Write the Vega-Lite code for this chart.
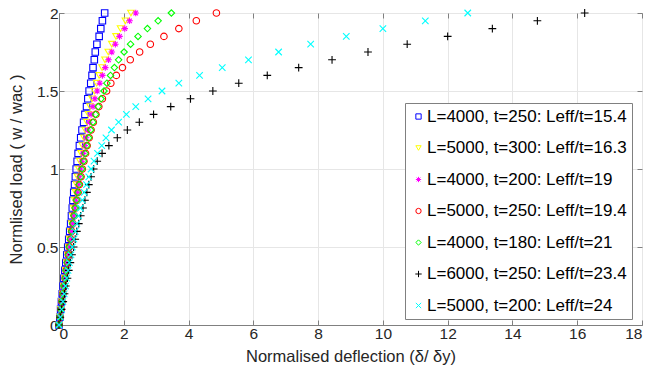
{
  "$schema": "https://vega.github.io/schema/vega-lite/v6.json",
  "width": 583,
  "height": 312,
  "autosize": {"type": "none"},
  "padding": {"left": 59, "top": 13, "right": 8, "bottom": 55},
  "background": "white",
  "config": {
    "font": "Liberation Sans",
    "view": {"stroke": "#808080", "strokeWidth": 1},
    "axis": {
      "domainColor": "#808080",
      "tickColor": "#808080",
      "gridColor": "#e6e6e6",
      "labelColor": "#262626",
      "titleColor": "#262626",
      "labelFont": "Liberation Sans",
      "titleFont": "Liberation Sans",
      "labelFontSize": 15.5,
      "titleFontSize": 16.5,
      "titleFontWeight": "normal",
      "tickSize": -5,
      "labelPadding": 6
    },
    "legend": {
      "orient": "none",
      "legendX": 346,
      "legendY": 90,
      "fillColor": "white",
      "strokeColor": "#808080",
      "padding": 5,
      "labelFont": "Liberation Sans",
      "labelFontSize": 17,
      "labelColor": "#000000",
      "rowPadding": 13.5,
      "symbolSize": 28,
      "symbolStrokeWidth": 1,
      "labelOffset": 0,
      "labelLimit": 400
    }
  },
  "data": {
    "values": [
      {"series": "L=4000, t=250: Leff/t=15.4", "deflection": 0, "load": 0},
      {"series": "L=4000, t=250: Leff/t=15.4", "deflection": 0.025, "load": 0.05},
      {"series": "L=4000, t=250: Leff/t=15.4", "deflection": 0.05, "load": 0.1},
      {"series": "L=4000, t=250: Leff/t=15.4", "deflection": 0.075, "load": 0.15},
      {"series": "L=4000, t=250: Leff/t=15.4", "deflection": 0.1, "load": 0.2},
      {"series": "L=4000, t=250: Leff/t=15.4", "deflection": 0.125, "load": 0.25},
      {"series": "L=4000, t=250: Leff/t=15.4", "deflection": 0.15, "load": 0.3},
      {"series": "L=4000, t=250: Leff/t=15.4", "deflection": 0.18, "load": 0.35},
      {"series": "L=4000, t=250: Leff/t=15.4", "deflection": 0.21, "load": 0.4},
      {"series": "L=4000, t=250: Leff/t=15.4", "deflection": 0.24, "load": 0.45},
      {"series": "L=4000, t=250: Leff/t=15.4", "deflection": 0.27, "load": 0.5},
      {"series": "L=4000, t=250: Leff/t=15.4", "deflection": 0.3, "load": 0.55},
      {"series": "L=4000, t=250: Leff/t=15.4", "deflection": 0.33, "load": 0.6},
      {"series": "L=4000, t=250: Leff/t=15.4", "deflection": 0.36, "load": 0.65},
      {"series": "L=4000, t=250: Leff/t=15.4", "deflection": 0.385, "load": 0.7},
      {"series": "L=4000, t=250: Leff/t=15.4", "deflection": 0.41, "load": 0.75},
      {"series": "L=4000, t=250: Leff/t=15.4", "deflection": 0.43, "load": 0.8},
      {"series": "L=4000, t=250: Leff/t=15.4", "deflection": 0.455, "load": 0.85},
      {"series": "L=4000, t=250: Leff/t=15.4", "deflection": 0.48, "load": 0.9},
      {"series": "L=4000, t=250: Leff/t=15.4", "deflection": 0.505, "load": 0.95},
      {"series": "L=4000, t=250: Leff/t=15.4", "deflection": 0.53, "load": 1},
      {"series": "L=4000, t=250: Leff/t=15.4", "deflection": 0.56, "load": 1.05},
      {"series": "L=4000, t=250: Leff/t=15.4", "deflection": 0.59, "load": 1.1},
      {"series": "L=4000, t=250: Leff/t=15.4", "deflection": 0.63, "load": 1.15},
      {"series": "L=4000, t=250: Leff/t=15.4", "deflection": 0.67, "load": 1.2},
      {"series": "L=4000, t=250: Leff/t=15.4", "deflection": 0.71, "load": 1.25},
      {"series": "L=4000, t=250: Leff/t=15.4", "deflection": 0.76, "load": 1.3},
      {"series": "L=4000, t=250: Leff/t=15.4", "deflection": 0.8, "load": 1.35},
      {"series": "L=4000, t=250: Leff/t=15.4", "deflection": 0.85, "load": 1.4},
      {"series": "L=4000, t=250: Leff/t=15.4", "deflection": 0.89, "load": 1.45},
      {"series": "L=4000, t=250: Leff/t=15.4", "deflection": 0.93, "load": 1.5},
      {"series": "L=4000, t=250: Leff/t=15.4", "deflection": 0.98, "load": 1.55},
      {"series": "L=4000, t=250: Leff/t=15.4", "deflection": 1.02, "load": 1.6},
      {"series": "L=4000, t=250: Leff/t=15.4", "deflection": 1.05, "load": 1.65},
      {"series": "L=4000, t=250: Leff/t=15.4", "deflection": 1.09, "load": 1.7},
      {"series": "L=4000, t=250: Leff/t=15.4", "deflection": 1.12, "load": 1.75},
      {"series": "L=4000, t=250: Leff/t=15.4", "deflection": 1.17, "load": 1.8},
      {"series": "L=4000, t=250: Leff/t=15.4", "deflection": 1.24, "load": 1.85},
      {"series": "L=4000, t=250: Leff/t=15.4", "deflection": 1.29, "load": 1.9},
      {"series": "L=4000, t=250: Leff/t=15.4", "deflection": 1.34, "load": 1.95},
      {"series": "L=4000, t=250: Leff/t=15.4", "deflection": 1.41, "load": 2},
      {"series": "L=5000, t=300: Leff/t=16.3", "deflection": 0, "load": 0},
      {"series": "L=5000, t=300: Leff/t=16.3", "deflection": 0.03, "load": 0.05},
      {"series": "L=5000, t=300: Leff/t=16.3", "deflection": 0.06, "load": 0.1},
      {"series": "L=5000, t=300: Leff/t=16.3", "deflection": 0.09, "load": 0.15},
      {"series": "L=5000, t=300: Leff/t=16.3", "deflection": 0.12, "load": 0.2},
      {"series": "L=5000, t=300: Leff/t=16.3", "deflection": 0.15, "load": 0.25},
      {"series": "L=5000, t=300: Leff/t=16.3", "deflection": 0.18, "load": 0.3},
      {"series": "L=5000, t=300: Leff/t=16.3", "deflection": 0.21, "load": 0.35},
      {"series": "L=5000, t=300: Leff/t=16.3", "deflection": 0.24, "load": 0.4},
      {"series": "L=5000, t=300: Leff/t=16.3", "deflection": 0.27, "load": 0.45},
      {"series": "L=5000, t=300: Leff/t=16.3", "deflection": 0.3, "load": 0.5},
      {"series": "L=5000, t=300: Leff/t=16.3", "deflection": 0.33, "load": 0.55},
      {"series": "L=5000, t=300: Leff/t=16.3", "deflection": 0.36, "load": 0.6},
      {"series": "L=5000, t=300: Leff/t=16.3", "deflection": 0.39, "load": 0.65},
      {"series": "L=5000, t=300: Leff/t=16.3", "deflection": 0.42, "load": 0.7},
      {"series": "L=5000, t=300: Leff/t=16.3", "deflection": 0.45, "load": 0.75},
      {"series": "L=5000, t=300: Leff/t=16.3", "deflection": 0.48, "load": 0.8},
      {"series": "L=5000, t=300: Leff/t=16.3", "deflection": 0.51, "load": 0.85},
      {"series": "L=5000, t=300: Leff/t=16.3", "deflection": 0.54, "load": 0.9},
      {"series": "L=5000, t=300: Leff/t=16.3", "deflection": 0.57, "load": 0.95},
      {"series": "L=5000, t=300: Leff/t=16.3", "deflection": 0.61, "load": 1},
      {"series": "L=5000, t=300: Leff/t=16.3", "deflection": 0.64, "load": 1.05},
      {"series": "L=5000, t=300: Leff/t=16.3", "deflection": 0.68, "load": 1.1},
      {"series": "L=5000, t=300: Leff/t=16.3", "deflection": 0.72, "load": 1.15},
      {"series": "L=5000, t=300: Leff/t=16.3", "deflection": 0.77, "load": 1.2},
      {"series": "L=5000, t=300: Leff/t=16.3", "deflection": 0.81, "load": 1.25},
      {"series": "L=5000, t=300: Leff/t=16.3", "deflection": 0.86, "load": 1.3},
      {"series": "L=5000, t=300: Leff/t=16.3", "deflection": 0.91, "load": 1.35},
      {"series": "L=5000, t=300: Leff/t=16.3", "deflection": 0.96, "load": 1.4},
      {"series": "L=5000, t=300: Leff/t=16.3", "deflection": 1.02, "load": 1.45},
      {"series": "L=5000, t=300: Leff/t=16.3", "deflection": 1.09, "load": 1.5},
      {"series": "L=5000, t=300: Leff/t=16.3", "deflection": 1.16, "load": 1.55},
      {"series": "L=5000, t=300: Leff/t=16.3", "deflection": 1.24, "load": 1.6},
      {"series": "L=5000, t=300: Leff/t=16.3", "deflection": 1.33, "load": 1.65},
      {"series": "L=5000, t=300: Leff/t=16.3", "deflection": 1.42, "load": 1.7},
      {"series": "L=5000, t=300: Leff/t=16.3", "deflection": 1.52, "load": 1.75},
      {"series": "L=5000, t=300: Leff/t=16.3", "deflection": 1.63, "load": 1.8},
      {"series": "L=5000, t=300: Leff/t=16.3", "deflection": 1.76, "load": 1.85},
      {"series": "L=5000, t=300: Leff/t=16.3", "deflection": 1.9, "load": 1.9},
      {"series": "L=5000, t=300: Leff/t=16.3", "deflection": 2.05, "load": 1.95},
      {"series": "L=5000, t=300: Leff/t=16.3", "deflection": 2.22, "load": 2},
      {"series": "L=4000, t=200: Leff/t=19", "deflection": 0, "load": 0},
      {"series": "L=4000, t=200: Leff/t=19", "deflection": 0.03, "load": 0.05},
      {"series": "L=4000, t=200: Leff/t=19", "deflection": 0.06, "load": 0.1},
      {"series": "L=4000, t=200: Leff/t=19", "deflection": 0.09, "load": 0.15},
      {"series": "L=4000, t=200: Leff/t=19", "deflection": 0.12, "load": 0.2},
      {"series": "L=4000, t=200: Leff/t=19", "deflection": 0.15, "load": 0.25},
      {"series": "L=4000, t=200: Leff/t=19", "deflection": 0.19, "load": 0.3},
      {"series": "L=4000, t=200: Leff/t=19", "deflection": 0.22, "load": 0.35},
      {"series": "L=4000, t=200: Leff/t=19", "deflection": 0.25, "load": 0.4},
      {"series": "L=4000, t=200: Leff/t=19", "deflection": 0.28, "load": 0.45},
      {"series": "L=4000, t=200: Leff/t=19", "deflection": 0.32, "load": 0.5},
      {"series": "L=4000, t=200: Leff/t=19", "deflection": 0.35, "load": 0.55},
      {"series": "L=4000, t=200: Leff/t=19", "deflection": 0.38, "load": 0.6},
      {"series": "L=4000, t=200: Leff/t=19", "deflection": 0.42, "load": 0.65},
      {"series": "L=4000, t=200: Leff/t=19", "deflection": 0.45, "load": 0.7},
      {"series": "L=4000, t=200: Leff/t=19", "deflection": 0.49, "load": 0.75},
      {"series": "L=4000, t=200: Leff/t=19", "deflection": 0.52, "load": 0.8},
      {"series": "L=4000, t=200: Leff/t=19", "deflection": 0.56, "load": 0.85},
      {"series": "L=4000, t=200: Leff/t=19", "deflection": 0.59, "load": 0.9},
      {"series": "L=4000, t=200: Leff/t=19", "deflection": 0.63, "load": 0.95},
      {"series": "L=4000, t=200: Leff/t=19", "deflection": 0.67, "load": 1},
      {"series": "L=4000, t=200: Leff/t=19", "deflection": 0.71, "load": 1.05},
      {"series": "L=4000, t=200: Leff/t=19", "deflection": 0.75, "load": 1.1},
      {"series": "L=4000, t=200: Leff/t=19", "deflection": 0.8, "load": 1.15},
      {"series": "L=4000, t=200: Leff/t=19", "deflection": 0.84, "load": 1.2},
      {"series": "L=4000, t=200: Leff/t=19", "deflection": 0.89, "load": 1.25},
      {"series": "L=4000, t=200: Leff/t=19", "deflection": 0.94, "load": 1.3},
      {"series": "L=4000, t=200: Leff/t=19", "deflection": 0.99, "load": 1.35},
      {"series": "L=4000, t=200: Leff/t=19", "deflection": 1.05, "load": 1.4},
      {"series": "L=4000, t=200: Leff/t=19", "deflection": 1.11, "load": 1.45},
      {"series": "L=4000, t=200: Leff/t=19", "deflection": 1.18, "load": 1.5},
      {"series": "L=4000, t=200: Leff/t=19", "deflection": 1.26, "load": 1.55},
      {"series": "L=4000, t=200: Leff/t=19", "deflection": 1.34, "load": 1.6},
      {"series": "L=4000, t=200: Leff/t=19", "deflection": 1.43, "load": 1.65},
      {"series": "L=4000, t=200: Leff/t=19", "deflection": 1.53, "load": 1.7},
      {"series": "L=4000, t=200: Leff/t=19", "deflection": 1.63, "load": 1.75},
      {"series": "L=4000, t=200: Leff/t=19", "deflection": 1.74, "load": 1.8},
      {"series": "L=4000, t=200: Leff/t=19", "deflection": 1.87, "load": 1.85},
      {"series": "L=4000, t=200: Leff/t=19", "deflection": 2.03, "load": 1.9},
      {"series": "L=4000, t=200: Leff/t=19", "deflection": 2.18, "load": 1.95},
      {"series": "L=4000, t=200: Leff/t=19", "deflection": 2.37, "load": 2},
      {"series": "L=5000, t=250: Leff/t=19.4", "deflection": 0, "load": 0},
      {"series": "L=5000, t=250: Leff/t=19.4", "deflection": 0.03, "load": 0.05},
      {"series": "L=5000, t=250: Leff/t=19.4", "deflection": 0.06, "load": 0.1},
      {"series": "L=5000, t=250: Leff/t=19.4", "deflection": 0.09, "load": 0.15},
      {"series": "L=5000, t=250: Leff/t=19.4", "deflection": 0.12, "load": 0.2},
      {"series": "L=5000, t=250: Leff/t=19.4", "deflection": 0.16, "load": 0.25},
      {"series": "L=5000, t=250: Leff/t=19.4", "deflection": 0.19, "load": 0.3},
      {"series": "L=5000, t=250: Leff/t=19.4", "deflection": 0.22, "load": 0.35},
      {"series": "L=5000, t=250: Leff/t=19.4", "deflection": 0.26, "load": 0.4},
      {"series": "L=5000, t=250: Leff/t=19.4", "deflection": 0.29, "load": 0.45},
      {"series": "L=5000, t=250: Leff/t=19.4", "deflection": 0.32, "load": 0.5},
      {"series": "L=5000, t=250: Leff/t=19.4", "deflection": 0.36, "load": 0.55},
      {"series": "L=5000, t=250: Leff/t=19.4", "deflection": 0.39, "load": 0.6},
      {"series": "L=5000, t=250: Leff/t=19.4", "deflection": 0.43, "load": 0.65},
      {"series": "L=5000, t=250: Leff/t=19.4", "deflection": 0.47, "load": 0.7},
      {"series": "L=5000, t=250: Leff/t=19.4", "deflection": 0.51, "load": 0.75},
      {"series": "L=5000, t=250: Leff/t=19.4", "deflection": 0.55, "load": 0.8},
      {"series": "L=5000, t=250: Leff/t=19.4", "deflection": 0.59, "load": 0.85},
      {"series": "L=5000, t=250: Leff/t=19.4", "deflection": 0.63, "load": 0.9},
      {"series": "L=5000, t=250: Leff/t=19.4", "deflection": 0.68, "load": 0.95},
      {"series": "L=5000, t=250: Leff/t=19.4", "deflection": 0.72, "load": 1},
      {"series": "L=5000, t=250: Leff/t=19.4", "deflection": 0.77, "load": 1.05},
      {"series": "L=5000, t=250: Leff/t=19.4", "deflection": 0.82, "load": 1.1},
      {"series": "L=5000, t=250: Leff/t=19.4", "deflection": 0.87, "load": 1.15},
      {"series": "L=5000, t=250: Leff/t=19.4", "deflection": 0.93, "load": 1.2},
      {"series": "L=5000, t=250: Leff/t=19.4", "deflection": 0.99, "load": 1.25},
      {"series": "L=5000, t=250: Leff/t=19.4", "deflection": 1.06, "load": 1.3},
      {"series": "L=5000, t=250: Leff/t=19.4", "deflection": 1.14, "load": 1.35},
      {"series": "L=5000, t=250: Leff/t=19.4", "deflection": 1.23, "load": 1.4},
      {"series": "L=5000, t=250: Leff/t=19.4", "deflection": 1.34, "load": 1.45},
      {"series": "L=5000, t=250: Leff/t=19.4", "deflection": 1.47, "load": 1.5},
      {"series": "L=5000, t=250: Leff/t=19.4", "deflection": 1.6, "load": 1.55},
      {"series": "L=5000, t=250: Leff/t=19.4", "deflection": 1.77, "load": 1.6},
      {"series": "L=5000, t=250: Leff/t=19.4", "deflection": 1.96, "load": 1.65},
      {"series": "L=5000, t=250: Leff/t=19.4", "deflection": 2.2, "load": 1.7},
      {"series": "L=5000, t=250: Leff/t=19.4", "deflection": 2.49, "load": 1.75},
      {"series": "L=5000, t=250: Leff/t=19.4", "deflection": 2.82, "load": 1.8},
      {"series": "L=5000, t=250: Leff/t=19.4", "deflection": 3.24, "load": 1.85},
      {"series": "L=5000, t=250: Leff/t=19.4", "deflection": 3.7, "load": 1.9},
      {"series": "L=5000, t=250: Leff/t=19.4", "deflection": 4.24, "load": 1.95},
      {"series": "L=5000, t=250: Leff/t=19.4", "deflection": 4.86, "load": 2},
      {"series": "L=4000, t=180: Leff/t=21", "deflection": 0, "load": 0},
      {"series": "L=4000, t=180: Leff/t=21", "deflection": 0.03, "load": 0.05},
      {"series": "L=4000, t=180: Leff/t=21", "deflection": 0.06, "load": 0.1},
      {"series": "L=4000, t=180: Leff/t=21", "deflection": 0.09, "load": 0.15},
      {"series": "L=4000, t=180: Leff/t=21", "deflection": 0.12, "load": 0.2},
      {"series": "L=4000, t=180: Leff/t=21", "deflection": 0.15, "load": 0.25},
      {"series": "L=4000, t=180: Leff/t=21", "deflection": 0.19, "load": 0.3},
      {"series": "L=4000, t=180: Leff/t=21", "deflection": 0.22, "load": 0.35},
      {"series": "L=4000, t=180: Leff/t=21", "deflection": 0.25, "load": 0.4},
      {"series": "L=4000, t=180: Leff/t=21", "deflection": 0.29, "load": 0.45},
      {"series": "L=4000, t=180: Leff/t=21", "deflection": 0.32, "load": 0.5},
      {"series": "L=4000, t=180: Leff/t=21", "deflection": 0.35, "load": 0.55},
      {"series": "L=4000, t=180: Leff/t=21", "deflection": 0.39, "load": 0.6},
      {"series": "L=4000, t=180: Leff/t=21", "deflection": 0.42, "load": 0.65},
      {"series": "L=4000, t=180: Leff/t=21", "deflection": 0.46, "load": 0.7},
      {"series": "L=4000, t=180: Leff/t=21", "deflection": 0.5, "load": 0.75},
      {"series": "L=4000, t=180: Leff/t=21", "deflection": 0.54, "load": 0.8},
      {"series": "L=4000, t=180: Leff/t=21", "deflection": 0.58, "load": 0.85},
      {"series": "L=4000, t=180: Leff/t=21", "deflection": 0.62, "load": 0.9},
      {"series": "L=4000, t=180: Leff/t=21", "deflection": 0.67, "load": 0.95},
      {"series": "L=4000, t=180: Leff/t=21", "deflection": 0.71, "load": 1},
      {"series": "L=4000, t=180: Leff/t=21", "deflection": 0.76, "load": 1.05},
      {"series": "L=4000, t=180: Leff/t=21", "deflection": 0.81, "load": 1.1},
      {"series": "L=4000, t=180: Leff/t=21", "deflection": 0.86, "load": 1.15},
      {"series": "L=4000, t=180: Leff/t=21", "deflection": 0.92, "load": 1.2},
      {"series": "L=4000, t=180: Leff/t=21", "deflection": 0.98, "load": 1.25},
      {"series": "L=4000, t=180: Leff/t=21", "deflection": 1.05, "load": 1.3},
      {"series": "L=4000, t=180: Leff/t=21", "deflection": 1.13, "load": 1.35},
      {"series": "L=4000, t=180: Leff/t=21", "deflection": 1.21, "load": 1.4},
      {"series": "L=4000, t=180: Leff/t=21", "deflection": 1.3, "load": 1.45},
      {"series": "L=4000, t=180: Leff/t=21", "deflection": 1.39, "load": 1.5},
      {"series": "L=4000, t=180: Leff/t=21", "deflection": 1.48, "load": 1.55},
      {"series": "L=4000, t=180: Leff/t=21", "deflection": 1.59, "load": 1.6},
      {"series": "L=4000, t=180: Leff/t=21", "deflection": 1.71, "load": 1.65},
      {"series": "L=4000, t=180: Leff/t=21", "deflection": 1.84, "load": 1.7},
      {"series": "L=4000, t=180: Leff/t=21", "deflection": 2.01, "load": 1.75},
      {"series": "L=4000, t=180: Leff/t=21", "deflection": 2.21, "load": 1.8},
      {"series": "L=4000, t=180: Leff/t=21", "deflection": 2.44, "load": 1.85},
      {"series": "L=4000, t=180: Leff/t=21", "deflection": 2.73, "load": 1.9},
      {"series": "L=4000, t=180: Leff/t=21", "deflection": 3.06, "load": 1.95},
      {"series": "L=4000, t=180: Leff/t=21", "deflection": 3.47, "load": 2},
      {"series": "L=6000, t=250: Leff/t=23.4", "deflection": 0, "load": 0},
      {"series": "L=6000, t=250: Leff/t=23.4", "deflection": 0.04, "load": 0.05},
      {"series": "L=6000, t=250: Leff/t=23.4", "deflection": 0.08, "load": 0.1},
      {"series": "L=6000, t=250: Leff/t=23.4", "deflection": 0.13, "load": 0.15},
      {"series": "L=6000, t=250: Leff/t=23.4", "deflection": 0.17, "load": 0.2},
      {"series": "L=6000, t=250: Leff/t=23.4", "deflection": 0.21, "load": 0.25},
      {"series": "L=6000, t=250: Leff/t=23.4", "deflection": 0.26, "load": 0.3},
      {"series": "L=6000, t=250: Leff/t=23.4", "deflection": 0.3, "load": 0.35},
      {"series": "L=6000, t=250: Leff/t=23.4", "deflection": 0.35, "load": 0.4},
      {"series": "L=6000, t=250: Leff/t=23.4", "deflection": 0.4, "load": 0.45},
      {"series": "L=6000, t=250: Leff/t=23.4", "deflection": 0.45, "load": 0.5},
      {"series": "L=6000, t=250: Leff/t=23.4", "deflection": 0.5, "load": 0.55},
      {"series": "L=6000, t=250: Leff/t=23.4", "deflection": 0.55, "load": 0.6},
      {"series": "L=6000, t=250: Leff/t=23.4", "deflection": 0.61, "load": 0.65},
      {"series": "L=6000, t=250: Leff/t=23.4", "deflection": 0.67, "load": 0.7},
      {"series": "L=6000, t=250: Leff/t=23.4", "deflection": 0.74, "load": 0.75},
      {"series": "L=6000, t=250: Leff/t=23.4", "deflection": 0.8, "load": 0.8},
      {"series": "L=6000, t=250: Leff/t=23.4", "deflection": 0.86, "load": 0.85},
      {"series": "L=6000, t=250: Leff/t=23.4", "deflection": 0.92, "load": 0.9},
      {"series": "L=6000, t=250: Leff/t=23.4", "deflection": 0.99, "load": 0.95},
      {"series": "L=6000, t=250: Leff/t=23.4", "deflection": 1.07, "load": 1},
      {"series": "L=6000, t=250: Leff/t=23.4", "deflection": 1.18, "load": 1.05},
      {"series": "L=6000, t=250: Leff/t=23.4", "deflection": 1.33, "load": 1.1},
      {"series": "L=6000, t=250: Leff/t=23.4", "deflection": 1.54, "load": 1.15},
      {"series": "L=6000, t=250: Leff/t=23.4", "deflection": 1.8, "load": 1.2},
      {"series": "L=6000, t=250: Leff/t=23.4", "deflection": 2.11, "load": 1.25},
      {"series": "L=6000, t=250: Leff/t=23.4", "deflection": 2.48, "load": 1.3},
      {"series": "L=6000, t=250: Leff/t=23.4", "deflection": 2.92, "load": 1.35},
      {"series": "L=6000, t=250: Leff/t=23.4", "deflection": 3.45, "load": 1.4},
      {"series": "L=6000, t=250: Leff/t=23.4", "deflection": 4.06, "load": 1.45},
      {"series": "L=6000, t=250: Leff/t=23.4", "deflection": 4.75, "load": 1.5},
      {"series": "L=6000, t=250: Leff/t=23.4", "deflection": 5.55, "load": 1.55},
      {"series": "L=6000, t=250: Leff/t=23.4", "deflection": 6.43, "load": 1.6},
      {"series": "L=6000, t=250: Leff/t=23.4", "deflection": 7.4, "load": 1.65},
      {"series": "L=6000, t=250: Leff/t=23.4", "deflection": 8.43, "load": 1.7},
      {"series": "L=6000, t=250: Leff/t=23.4", "deflection": 9.54, "load": 1.75},
      {"series": "L=6000, t=250: Leff/t=23.4", "deflection": 10.75, "load": 1.8},
      {"series": "L=6000, t=250: Leff/t=23.4", "deflection": 12.0, "load": 1.85},
      {"series": "L=6000, t=250: Leff/t=23.4", "deflection": 13.38, "load": 1.9},
      {"series": "L=6000, t=250: Leff/t=23.4", "deflection": 14.77, "load": 1.95},
      {"series": "L=6000, t=250: Leff/t=23.4", "deflection": 16.23, "load": 2},
      {"series": "L=5000, t=200: Leff/t=24", "deflection": 0, "load": 0},
      {"series": "L=5000, t=200: Leff/t=24", "deflection": 0.04, "load": 0.05},
      {"series": "L=5000, t=200: Leff/t=24", "deflection": 0.08, "load": 0.1},
      {"series": "L=5000, t=200: Leff/t=24", "deflection": 0.12, "load": 0.15},
      {"series": "L=5000, t=200: Leff/t=24", "deflection": 0.16, "load": 0.2},
      {"series": "L=5000, t=200: Leff/t=24", "deflection": 0.2, "load": 0.25},
      {"series": "L=5000, t=200: Leff/t=24", "deflection": 0.24, "load": 0.3},
      {"series": "L=5000, t=200: Leff/t=24", "deflection": 0.28, "load": 0.35},
      {"series": "L=5000, t=200: Leff/t=24", "deflection": 0.32, "load": 0.4},
      {"series": "L=5000, t=200: Leff/t=24", "deflection": 0.37, "load": 0.45},
      {"series": "L=5000, t=200: Leff/t=24", "deflection": 0.41, "load": 0.5},
      {"series": "L=5000, t=200: Leff/t=24", "deflection": 0.46, "load": 0.55},
      {"series": "L=5000, t=200: Leff/t=24", "deflection": 0.5, "load": 0.6},
      {"series": "L=5000, t=200: Leff/t=24", "deflection": 0.55, "load": 0.65},
      {"series": "L=5000, t=200: Leff/t=24", "deflection": 0.6, "load": 0.7},
      {"series": "L=5000, t=200: Leff/t=24", "deflection": 0.66, "load": 0.75},
      {"series": "L=5000, t=200: Leff/t=24", "deflection": 0.72, "load": 0.8},
      {"series": "L=5000, t=200: Leff/t=24", "deflection": 0.78, "load": 0.85},
      {"series": "L=5000, t=200: Leff/t=24", "deflection": 0.85, "load": 0.9},
      {"series": "L=5000, t=200: Leff/t=24", "deflection": 0.92, "load": 0.95},
      {"series": "L=5000, t=200: Leff/t=24", "deflection": 0.99, "load": 1},
      {"series": "L=5000, t=200: Leff/t=24", "deflection": 1.08, "load": 1.05},
      {"series": "L=5000, t=200: Leff/t=24", "deflection": 1.19, "load": 1.1},
      {"series": "L=5000, t=200: Leff/t=24", "deflection": 1.32, "load": 1.15},
      {"series": "L=5000, t=200: Leff/t=24", "deflection": 1.45, "load": 1.2},
      {"series": "L=5000, t=200: Leff/t=24", "deflection": 1.62, "load": 1.25},
      {"series": "L=5000, t=200: Leff/t=24", "deflection": 1.84, "load": 1.3},
      {"series": "L=5000, t=200: Leff/t=24", "deflection": 2.08, "load": 1.35},
      {"series": "L=5000, t=200: Leff/t=24", "deflection": 2.37, "load": 1.4},
      {"series": "L=5000, t=200: Leff/t=24", "deflection": 2.75, "load": 1.45},
      {"series": "L=5000, t=200: Leff/t=24", "deflection": 3.18, "load": 1.5},
      {"series": "L=5000, t=200: Leff/t=24", "deflection": 3.7, "load": 1.55},
      {"series": "L=5000, t=200: Leff/t=24", "deflection": 4.34, "load": 1.6},
      {"series": "L=5000, t=200: Leff/t=24", "deflection": 5.04, "load": 1.65},
      {"series": "L=5000, t=200: Leff/t=24", "deflection": 5.85, "load": 1.7},
      {"series": "L=5000, t=200: Leff/t=24", "deflection": 6.78, "load": 1.75},
      {"series": "L=5000, t=200: Leff/t=24", "deflection": 7.77, "load": 1.8},
      {"series": "L=5000, t=200: Leff/t=24", "deflection": 8.87, "load": 1.85},
      {"series": "L=5000, t=200: Leff/t=24", "deflection": 10.0, "load": 1.9},
      {"series": "L=5000, t=200: Leff/t=24", "deflection": 11.31, "load": 1.95},
      {"series": "L=5000, t=200: Leff/t=24", "deflection": 12.62, "load": 2}
    ]
  },
  "layer": [
    {
      "mark": {"type": "point", "filled": false, "strokeWidth": 1.1, "size": 42, "opacity": 1},
      "encoding": {
        "x": {
          "field": "deflection",
          "type": "quantitative",
          "scale": {"domain": [0, 18], "nice": false, "zero": false},
          "axis": {
            "values": [0, 2, 4, 6, 8, 10, 12, 14, 16, 18],
            "title": "Normalised deflection (δ/ δy)",
            "titlePadding": 7
          }
        },
        "y": {
          "field": "load",
          "type": "quantitative",
          "scale": {"domain": [0, 2], "nice": false, "zero": false},
          "axis": {
            "values": [0, 0.5, 1, 1.5, 2],
            "format": "~g",
            "title": "Normlised load ( w / wac )",
            "titlePadding": 12
          }
        },
        "color": {
          "field": "series",
          "type": "nominal",
          "scale": {
            "domain": ["L=4000, t=250: Leff/t=15.4", "L=5000, t=300: Leff/t=16.3", "L=4000, t=200: Leff/t=19", "L=5000, t=250: Leff/t=19.4", "L=4000, t=180: Leff/t=21", "L=6000, t=250: Leff/t=23.4", "L=5000, t=200: Leff/t=24"],
            "range": ["#0000FF", "#FFFF00", "#FF00FF", "#FF0000", "#00FF00", "#000000", "#00FFFF"]
          },
          "legend": {"title": null}
        },
        "shape": {
          "field": "series",
          "type": "nominal",
          "scale": {
            "domain": ["L=4000, t=250: Leff/t=15.4", "L=5000, t=300: Leff/t=16.3", "L=4000, t=200: Leff/t=19", "L=5000, t=250: Leff/t=19.4", "L=4000, t=180: Leff/t=21", "L=6000, t=250: Leff/t=23.4", "L=5000, t=200: Leff/t=24"],
            "range": ["square", "triangle-down", "M-1,0L1,0M0,-1L0,1M-0.7,-0.7L0.7,0.7M-0.7,0.7L0.7,-0.7", "circle", "diamond", "M-1.2,0L1.2,0M0,-1.2L0,1.2", "M-1,-1L1,1M-1,1L1,-1"]
          },
          "legend": {"title": null}
        }
      }
    },
    {
      "mark": {"type": "point", "opacity": 0},
      "encoding": {
        "x": {
          "field": "deflection",
          "type": "quantitative",
          "axis": {"orient": "top", "values": [0, 2, 4, 6, 8, 10, 12, 14, 16, 18], "labels": false, "title": null, "grid": false, "domain": false}
        },
        "y": {
          "field": "load",
          "type": "quantitative",
          "axis": {"orient": "right", "values": [0, 0.5, 1, 1.5, 2], "labels": false, "title": null, "grid": false, "domain": false}
        }
      }
    }
  ],
  "resolve": {"axis": {"x": "independent", "y": "independent"}}
}
